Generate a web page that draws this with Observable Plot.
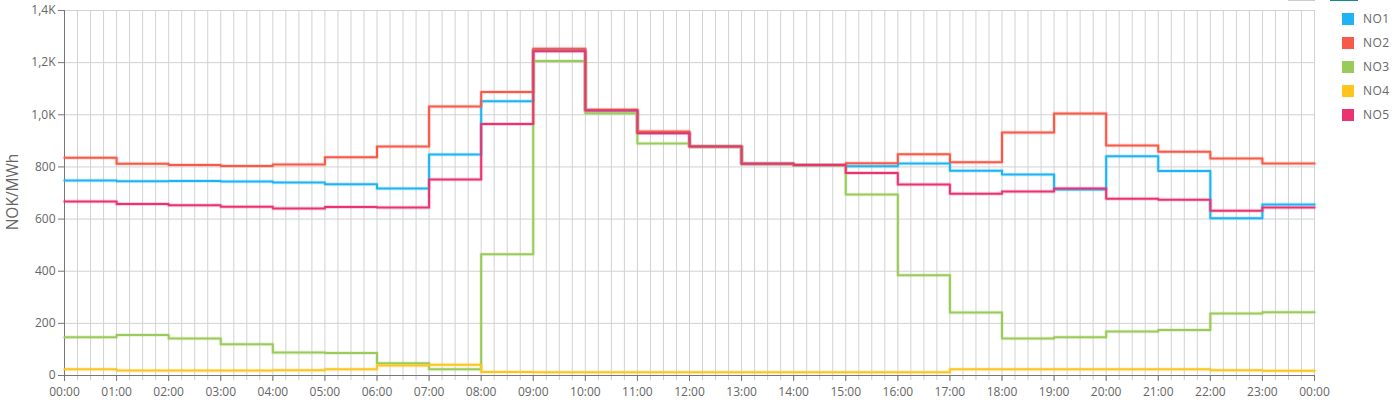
<!DOCTYPE html>
<html>
<head>
<meta charset="utf-8">
<script src="https://cdn.jsdelivr.net/npm/d3@7"></script>
<script src="https://cdn.jsdelivr.net/npm/@observablehq/plot@0.6"></script>
<style>
  html, body { margin: 0; padding: 0; background: #fff; }
  #wrap { position: relative; width: 1400px; height: 400px; font-family: "Open Sans", sans-serif; }
  #legend { position: absolute; left: 1342px; top: 7px; }
  .item { display: flex; align-items: center; height: 24px; margin-top: 0; }
  .item .sw { width: 12px; height: 12px; margin-right: 9px; }
  .item span { font-size: 12px; color: #666; letter-spacing: 0.5px; line-height: 12px; }
  .topbar { position: absolute; top: 0; height: 1px; }
  #ylabel { position: absolute; left: 12px; top: 192px; transform: translate(-50%, -50%) rotate(-90deg);
    font-size: 15.5px; color: #666; white-space: nowrap; line-height: 16px; }
</style>
</head>
<body>
<div id="wrap">
  <div id="chart"></div>
  <div id="ylabel"></div>
  <div id="legend"></div>
  <div class="topbar" style="left:1288px;width:27px;background:#ccc"></div>
  <div class="topbar" style="left:1330px;width:28px;background:#138a8a"></div>
</div>
<script>
const hours = [0,1,2,3,4,5,6,7,8,9,10,11,12,13,14,15,16,17,18,19,20,21,22,23];
const seriesNames = ["NO1","NO2","NO3","NO4","NO5"];
const seriesColors = ["#1fb3f5","#f75a48","#9aca5a","#fdc51e","#ea3370"];
const no1 = [748,745,746,744,740,734,717,848,1052,1249,1016,930,878,812,807,803,813,785,771,713,841,784,603,656];
const no2 = [835,812,807,804,809,837,878,1032,1087,1253,1019,936,878,812,807,814,849,818,932,1005,882,858,832,813];
const no3 = [147,155,142,120,88,86,47,24,465,1206,1006,890,877,812,806,694,385,242,142,147,169,175,238,243];
const no4 = [24,19,19,19,20,24,38,41,13,12,12,12,12,12,12,12,12,24,24,24,24,24,20,18];
const no5 = [667,658,653,647,641,646,644,752,965,1244,1016,929,878,812,807,777,733,697,706,717,678,674,632,644];
const yTicks = [0,200,400,600,800,1000,1200,1400];
const yLabel = "NOK/MWh";

const seriesValues = [no1,no2,no3,no4,no5];
const t0 = Date.UTC(2024,0,1);
const hourDate = h => new Date(t0 + h*3600000);
const rows = [];
seriesNames.forEach((name,i) => {
  const vals = seriesValues[i];
  hours.forEach((h,j) => rows.push({series:name, time:hourDate(h), value:vals[j]}));
  rows.push({series:name, time:hourDate(24), value:vals[vals.length-1]});
});
const xDomain = [hourDate(0), hourDate(24)];
const hourTicks = d3.utcHour.every(1).range(xDomain[0], new Date(+xDomain[1]+1));
const minorTicks = d3.utcMinute.every(15).range(xDomain[0], new Date(+xDomain[1]+1));
const fmtY = d => d >= 1000 ? (d/1000).toFixed(1).replace(".", ",") + "K" : String(d);

const chart = Plot.plot({
  width: 1335,
  height: 400,
  marginLeft: 64,
  marginRight: 21,
  marginTop: 10,
  marginBottom: 25,
  style: {fontFamily: "'Open Sans', sans-serif", fontSize: "12px", color: "#666", background: "transparent"},
  x: {type: "utc", domain: xDomain},
  y: {domain: [0, 1400]},
  color: {domain: seriesNames, range: seriesColors},
  marks: [
    Plot.gridX(minorTicks, {stroke: "#d2d2d2", strokeOpacity: 1}),
    Plot.gridY(yTicks, {stroke: "#d2d2d2", strokeOpacity: 1}),
    Plot.axisX(minorTicks, {tickSize: 5, stroke: "#ccc", text: null, label: null}),
    Plot.axisX(hourTicks, {tickSize: 6, stroke: "#777", tickFormat: "%H:%M", tickPadding: 6, fill: "#666", label: null, fontSize: 12}),
    Plot.axisY(yTicks, {tickSize: 6, stroke: "#777", tickFormat: fmtY, tickPadding: 3, fill: "#666", fontSize: 12, label: null}),
    Plot.ruleX([xDomain[0]], {stroke: "#777"}),
    Plot.ruleY([0], {stroke: "#777"}),
    Plot.line(rows, {x: "time", y: "value", z: "series", stroke: "series", curve: "step-after", strokeWidth: 4, strokeOpacity: 0.2}),
    Plot.line(rows, {x: "time", y: "value", z: "series", stroke: "series", curve: "step-after", strokeWidth: 2})
  ]
});
document.getElementById("chart").appendChild(chart);
document.getElementById("ylabel").textContent = yLabel;

const legend = document.getElementById("legend");
seriesNames.forEach((n,i) => {
  const d = document.createElement("div");
  d.className = "item";
  d.innerHTML = `<div class="sw" style="background:${seriesColors[i]}"></div><span>${n}</span>`;
  legend.appendChild(d);
});
</script>
</body>
</html>
